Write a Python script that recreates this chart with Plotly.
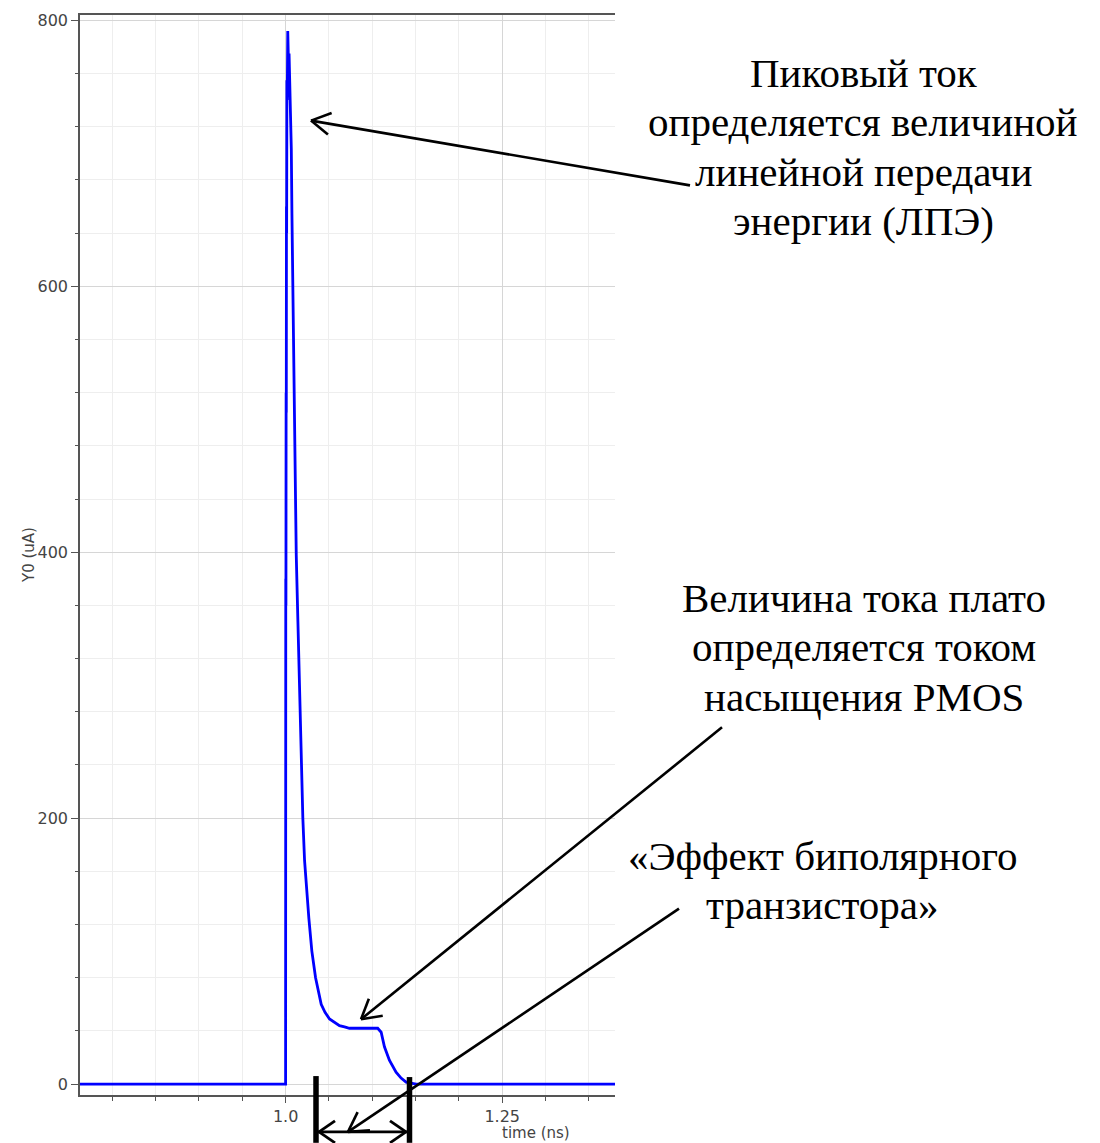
import math
import plotly.graph_objects as go

# Transient current pulse Y0 (uA) versus time (ns)
time_ns = [
    0.7627, 1.0000, 1.0002, 1.0004, 1.0006, 1.0008, 1.0010, 1.0012, 1.0015,
    1.0019, 1.0025, 1.0034, 1.0040, 1.0046, 1.0056, 1.0066, 1.0073, 1.0081,
    1.0092, 1.0104, 1.0112, 1.0123, 1.0142, 1.0161, 1.0181, 1.0199, 1.0219,
    1.0238, 1.0268, 1.0303, 1.0346, 1.0411, 1.0455, 1.0507, 1.0622, 1.0680,
    1.0737, 1.0900, 1.1063, 1.1103, 1.1141, 1.1198, 1.1275, 1.1333, 1.1391,
    1.1506, 1.3802,
]
current_ua = [
    0, 0, 380, 360, 520, 505, 660, 640, 755,
    740, 792, 765, 775, 760, 720, 703, 655, 612,
    560, 510, 450, 398, 348, 297, 248, 200, 168,
    150, 125, 100, 80, 60, 54, 49, 44, 43,
    42, 42, 42, 39, 28, 18, 9, 4.5, 1.5,
    0, 0,
]

x_tick_vals = [1.0, 1.25]
x_tick_text = ["1.0", "1.25"]
y_tick_vals = [0, 200, 400, 600, 800]

# Explanatory text blocks
peak_lines = ["Пиковый ток", "определяется величиной", "линейной передачи", "энергии (ЛПЭ)"]
plateau_lines = ["Величина тока плато", "определяется током", "насыщения PMOS"]
bipolar_lines = ["«Эффект биполярного", "транзистора»"]

W, H = 1100, 1143
PL, PR, PT, PB = 80, 615, 11, 1095   # plot area in px


def px(xp):
    return (xp - PL) / (PR - PL)


def py(yp):
    return (PB - yp) / (PB - PT)


fig = go.Figure()
fig.add_trace(go.Scatter(
    x=time_ns, y=current_ua, mode="lines",
    line=dict(color="#0000ff", width=2.8),
    hoverinfo="skip",
))

axis_col = "#555555"
tick_font = dict(family="DejaVu Sans", size=16, color="#444444")
title_font = dict(family="DejaVu Sans", size=15, color="#444444")

fig.update_layout(
    width=W, height=H,
    margin=dict(l=PL, r=W - PR, t=PT, b=H - PB, pad=0),
    paper_bgcolor="white", plot_bgcolor="white",
    showlegend=False,
    xaxis=dict(
        range=[0.7627, 1.3802],
        tickmode="array", tickvals=x_tick_vals, ticktext=x_tick_text,
        ticks="outside", ticklen=6, tickwidth=1.2, tickcolor=axis_col,
        tickfont=tick_font,
        showline=True, linecolor=axis_col, linewidth=1.5, mirror=True,
        showgrid=True, gridcolor="#d6d6d6", gridwidth=1.3,
        zeroline=False,
        minor=dict(tick0=0.75, dtick=0.05, ticks="outside", ticklen=4,
                   tickcolor=axis_col, showgrid=True, gridcolor="#eeeeee",
                   gridwidth=1),
    ),
    yaxis=dict(
        range=[-8.2, 804],
        tickmode="array", tickvals=y_tick_vals,
        ticks="outside", ticklen=7, tickwidth=1.2, tickcolor=axis_col,
        tickfont=tick_font,
        showline=True, linecolor=axis_col, linewidth=1.5,
        showgrid=True, gridcolor="#d6d6d6", gridwidth=1.3,
        zeroline=False,
        minor=dict(tick0=0, dtick=40, ticks="outside", ticklen=3,
                   tickcolor=axis_col, showgrid=True, gridcolor="#eeeeee",
                   gridwidth=1),
    ),
)

annotations = []
# axis titles
annotations.append(dict(text="Y0 (uA)", x=px(29), y=py(553), xref="paper", yref="paper",
                        textangle=-90, showarrow=False, xanchor="center", yanchor="middle",
                        font=title_font))
annotations.append(dict(text="time (ns)", x=px(536), y=py(1133), xref="paper", yref="paper",
                        showarrow=False, xanchor="center", yanchor="middle",
                        font=title_font))

serif = dict(family="Liberation Serif", size=41, color="black")


def add_block(lines, cx, cy0, step=49.7):
    for i, line in enumerate(lines):
        annotations.append(dict(text=line, x=px(cx), y=py(cy0 + i * step),
                                xref="paper", yref="paper", showarrow=False,
                                xanchor="center", yanchor="middle", font=serif))


add_block(peak_lines, 863, 69)
add_block(plateau_lines, 864, 596)
add_block(bipolar_lines, 822, 855)
fig.update_layout(annotations=annotations)

shapes = []


def seg(x0, y0, x1, y1, width=2.6):
    shapes.append(dict(type="line", xref="paper", yref="paper",
                       x0=px(x0), y0=py(y0), x1=px(x1), y1=py(y1),
                       line=dict(color="black", width=width)))


def arrow(tail, tip, head=22, spread=30, width=2.6):
    seg(tail[0], tail[1], tip[0], tip[1], width)
    ang = math.atan2(tail[1] - tip[1], tail[0] - tip[0])
    for s in (-1, 1):
        a = ang + s * math.radians(spread)
        seg(tip[0], tip[1], tip[0] + head * math.cos(a), tip[1] + head * math.sin(a), width)


arrow((690, 182), (311, 117))
arrow((722, 726), (361, 1019))
arrow((679, 908), (348, 1132))

# duration bracket below the time axis
seg(316, 1076, 316, 1143, width=5.5)
seg(409.5, 1077, 409.5, 1143, width=5.5)
seg(318, 1132, 408, 1132, width=2.8)
for tipx, d in ((319, 1), (406, -1)):
    for s in (-1, 1):
        seg(tipx, 1132, tipx + d * 16, 1132 + s * 11, width=2.8)

fig.update_layout(shapes=shapes)

fig.write_html("out.html")
